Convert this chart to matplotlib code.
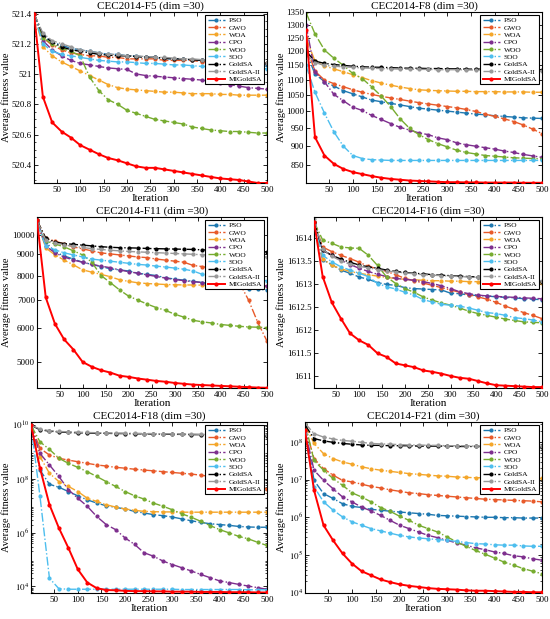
import numpy as np
import matplotlib
matplotlib.use("Agg")
import matplotlib.pyplot as plt
from matplotlib.ticker import FixedLocator, NullLocator, NullFormatter, LogLocator

plt.rcParams['font.family'] = ['Liberation Serif', 'DejaVu Serif']
plt.rcParams['mathtext.fontset'] = 'stix'

# ---------------- data ----------------
iterations = [1, 20, 40, 60, 80, 100, 120, 140, 160, 180, 200, 220, 240,
              260, 280, 300, 320, 340, 360, 380, 400, 420, 440, 460, 480, 500]

algorithms = ["PSO", "GWO", "WOA", "CPO", "WOO", "SOO", "GoldSA", "GoldSA-II", "MIGoldSA"]
colors = ["#1e78b0", "#e85a2a", "#f4a62a", "#7e2f8e", "#77ac30",
          "#4dbeee", "#000000", "#999999", "#ff0000"]

f5 = {
    "PSO": [521.4, 521.25, 521.21, 521.19, 521.17, 521.16, 521.15, 521.14, 521.13, 521.13, 521.12, 521.12, 521.11,
            521.11, 521.10, 521.10, 521.10, 521.09, 521.09, 521.09, 521.08, 521.08, 521.08, 521.07, 521.07, 521.06],
    "GWO": [521.4, 521.24, 521.19, 521.16, 521.14, 521.13, 521.12, 521.12, 521.11, 521.11, 521.10, 521.10, 521.10,
            521.10, 521.09, 521.09, 521.09, 521.09, 521.08, 521.08, 521.08, 521.08, 521.07, 521.07, 521.07, 521.07],
    "WOA": [521.4, 521.18, 521.12, 521.08, 521.05, 521.02, 520.99, 520.96, 520.93, 520.91, 520.90, 520.895, 520.89,
            520.885, 520.88, 520.88, 520.875, 520.87, 520.87, 520.87, 520.865, 520.865, 520.86, 520.86, 520.86, 520.86],
    "CPO": [521.4, 521.22, 521.16, 521.12, 521.09, 521.07, 521.06, 521.05, 521.04, 521.035, 521.03, 521.0, 520.99,
            520.985, 520.98, 520.975, 520.97, 520.965, 520.96, 520.95, 520.94, 520.93, 520.92, 520.91, 520.905, 520.90],
    "WOO": [521.4, 521.24, 521.2, 521.17, 521.15, 521.12, 520.98, 520.89, 520.83, 520.8, 520.76, 520.74, 520.72,
            520.7, 520.69, 520.68, 520.67, 520.65, 520.64, 520.63, 520.625, 520.62, 520.62, 520.615, 520.61, 520.61],
    "SOO": [521.4, 521.2, 521.15, 521.13, 521.12, 521.11, 521.10, 521.09, 521.085, 521.08, 521.08, 521.075, 521.07,
            521.07, 521.065, 521.06, 521.06, 521.055, 521.05, 521.05, 521.045, 521.04, 521.04, 521.04, 521.035, 521.035],
    "GoldSA": [521.4, 521.26, 521.21, 521.18, 521.16, 521.15, 521.14, 521.13, 521.125, 521.12, 521.12, 521.115, 521.11,
               521.11, 521.105, 521.10, 521.10, 521.095, 521.09, 521.09, 521.085, 521.08, 521.08, 521.075, 521.07, 521.07],
    "GoldSA-II": [521.4, 521.27, 521.22, 521.2, 521.18, 521.16, 521.15, 521.14, 521.13, 521.13, 521.12, 521.12, 521.115,
                  521.11, 521.11, 521.105, 521.10, 521.10, 521.095, 521.09, 521.09, 521.085, 521.08, 521.08, 521.075, 521.075],
    "MIGoldSA": [521.4, 520.85, 520.68, 520.62, 520.58, 520.53, 520.5, 520.47, 520.445, 520.43, 520.41, 520.39, 520.38,
                 520.38, 520.37, 520.36, 520.35, 520.34, 520.33, 520.32, 520.31, 520.305, 520.3, 520.29, 520.28, 520.28],
}

f8 = {
    "PSO": [1200, 1120, 1095, 1080, 1065, 1055, 1045, 1035, 1030, 1025, 1020, 1015, 1010,
            1007, 1004, 1001, 998, 995, 992, 990, 987, 985, 983, 981, 980, 979],
    "GWO": [1220, 1130, 1100, 1088, 1078, 1068, 1060, 1053, 1047, 1042, 1037, 1032, 1027,
            1023, 1019, 1015, 1011, 1006, 1000, 992, 985, 978, 970, 960, 948, 935],
    "WOA": [1250, 1165, 1148, 1138, 1128, 1118, 1108, 1098, 1090, 1083, 1077, 1072, 1068,
            1066, 1065, 1064, 1063, 1063, 1062, 1062, 1062, 1061, 1061, 1061, 1060, 1060],
    "CPO": [1300, 1127, 1094, 1053, 1033, 1013, 1003, 988, 976, 964, 953, 945, 937,
            932, 923, 918, 909, 904, 900, 896, 892, 887, 883, 878, 874, 870],
    "WOO": [1350, 1265, 1205, 1175, 1150, 1122, 1105, 1077, 1048, 1015, 978, 950, 932,
            918, 907, 898, 889, 883, 879, 875, 873, 871, 869, 868, 867, 866],
    "SOO": [1150, 1060, 995, 940, 900, 875, 867, 864, 863, 862, 862, 862, 862,
            862, 862, 862, 862, 862, 862, 862, 862, 862, 862, 862, 862, 862],
    "GoldSA": [1200, 1165, 1157, 1153, 1150, 1147, 1145, 1144, 1143, 1142, 1141, 1140, 1140,
               1139, 1139, 1138, 1138, 1137, 1137, 1137, 1136, 1136, 1136, 1135, 1135, 1135],
    "GoldSA-II": [1190, 1160, 1150, 1147, 1145, 1143, 1141, 1140, 1139, 1138, 1137, 1137, 1136,
                  1136, 1135, 1135, 1135, 1134, 1134, 1134, 1133, 1133, 1133, 1133, 1132, 1132],
    "MIGoldSA": [1280, 925, 875, 853, 840, 832, 827, 822, 818, 815, 813, 811, 810,
                 809, 808, 807, 807, 806.5, 806.5, 806, 806, 806, 806, 805.5, 805.5, 805.5],
}

f11 = {
    "PSO": [10700, 9600, 9100, 8900, 8750, 8600, 8500, 8400, 8300, 8250, 8200, 8100, 8050,
            8000, 7900, 7850, 7800, 7750, 7700, 7650, 7600, 7550, 7500, 7450, 7420, 7400],
    "GWO": [10800, 9800, 9650, 9500, 9350, 9250, 9150, 9050, 9000, 8950, 8900, 8850, 8820,
            8750, 8700, 8650, 8600, 8450, 8400, 8300, 8250, 8000, 7700, 7000, 6200, 5600],
    "WOA": [10700, 9300, 8950, 8700, 8480, 8250, 8150, 8050, 7950, 7820, 7750, 7690, 7660,
            7640, 7620, 7610, 7600, 7600, 7590, 7580, 7580, 7570, 7570, 7560, 7560, 7550],
    "CPO": [10700, 9400, 9050, 8850, 8700, 8600, 8500, 8420, 8350, 8250, 8170, 8100, 8030,
            7960, 7890, 7830, 7780, 7740, 7700, 7680, 7660, 7640, 7620, 7600, 7580, 7560],
    "WOO": [10800, 9650, 9500, 9350, 9150, 8950, 8600, 8000, 7700, 7400, 7150, 7000, 6850,
            6720, 6620, 6480, 6380, 6270, 6220, 6180, 6130, 6100, 6070, 6050, 6040, 6030],
    "SOO": [10600, 9400, 9200, 9050, 8950, 8850, 8750, 8700, 8650, 8600, 8550, 8500, 8470,
            8420, 8380, 8330, 8280, 8200, 8050, 8000, 7980, 7950, 7900, 7850, 7810, 7780],
    "GoldSA": [10800, 9800, 9600, 9520, 9480, 9440, 9400, 9360, 9330, 9310, 9300, 9290, 9270,
               9260, 9250, 9240, 9230, 9220, 9200, 9190, 9180, 9160, 9150, 9140, 9120, 9100],
    "GoldSA-II": [10800, 9700, 9550, 9450, 9380, 9320, 9260, 9220, 9180, 9150, 9120, 9100, 9080,
                  9060, 9040, 9020, 9000, 8980, 8960, 8940, 8920, 8900, 8880, 8870, 8860, 8850],
    "MIGoldSA": [10800, 7100, 6150, 5650, 5350, 5000, 4870, 4780, 4720, 4640, 4610, 4570, 4540,
                 4510, 4490, 4460, 4440, 4420, 4410, 4400, 4390, 4380, 4370, 4360, 4350, 4345],
}

f16 = {
    "PSO": [1614.3, 1613.52, 1613.42, 1613.3, 1613.23, 1613.15, 1613.1, 1613.03, 1612.99, 1612.97, 1612.92, 1612.9, 1612.89,
            1612.88, 1612.87, 1612.8, 1612.79, 1612.76, 1612.75, 1612.74, 1612.72, 1612.71, 1612.7, 1612.68, 1612.67, 1612.66],
    "GWO": [1614.35, 1613.8, 1613.7, 1613.62, 1613.55, 1613.47, 1613.38, 1613.33, 1613.27, 1613.2, 1613.12, 1613.07, 1613.02,
            1612.97, 1612.92, 1612.87, 1612.82, 1612.77, 1612.72, 1612.67, 1612.6, 1612.52, 1612.45, 1612.38, 1612.32, 1612.25],
    "WOA": [1614.3, 1613.55, 1613.4, 1613.33, 1613.27, 1613.23, 1613.2, 1613.17, 1613.14, 1613.12, 1613.1, 1613.09, 1613.08,
            1613.07, 1613.07, 1613.06, 1613.06, 1613.05, 1613.05, 1613.05, 1613.04, 1613.04, 1613.04, 1613.03, 1613.03, 1613.03],
    "CPO": [1614.3, 1613.73, 1613.62, 1613.52, 1613.42, 1613.34, 1613.27, 1613.21, 1613.16, 1613.12, 1613.1, 1613.08, 1613.05,
            1613.01, 1612.96, 1612.9, 1612.83, 1612.79, 1612.76, 1612.74, 1612.73, 1612.72, 1612.71, 1612.7, 1612.69, 1612.68],
    "WOO": [1614.35, 1613.95, 1613.88, 1613.8, 1613.78, 1613.77, 1613.62, 1613.4, 1613.15, 1613.01, 1612.9, 1612.82, 1612.72,
            1612.65, 1612.59, 1612.54, 1612.48, 1612.41, 1612.36, 1612.32, 1612.28, 1612.24, 1612.21, 1612.18, 1612.17, 1612.16],
    "SOO": [1614.3, 1613.62, 1613.48, 1613.37, 1613.3, 1613.23, 1613.16, 1613.01, 1612.94, 1612.89, 1612.82, 1612.76, 1612.66,
            1612.61, 1612.56, 1612.54, 1612.52, 1612.48, 1612.43, 1612.38, 1612.36, 1612.32, 1612.27, 1612.25, 1612.22, 1612.18],
    "GoldSA": [1614.35, 1613.73, 1613.62, 1613.54, 1613.47, 1613.41, 1613.37, 1613.34, 1613.3, 1613.27, 1613.25, 1613.23, 1613.22,
               1613.2, 1613.19, 1613.18, 1613.17, 1613.16, 1613.15, 1613.14, 1613.13, 1613.12, 1613.1, 1613.08, 1613.07, 1613.05],
    "GoldSA-II": [1614.4, 1613.75, 1613.6, 1613.5, 1613.43, 1613.38, 1613.35, 1613.31, 1613.28, 1613.26, 1613.24, 1613.22, 1613.2,
                  1613.19, 1613.18, 1613.17, 1613.16, 1613.15, 1613.14, 1613.13, 1613.12, 1613.11, 1613.1, 1613.09, 1613.08, 1613.07],
    "MIGoldSA": [1614.35, 1613.16, 1612.6, 1612.25, 1611.93, 1611.78, 1611.68, 1611.5, 1611.42, 1611.28, 1611.24, 1611.2, 1611.13,
                 1611.1, 1611.06, 1611.01, 1610.97, 1610.95, 1610.9, 1610.85, 1610.81, 1610.8, 1610.79, 1610.78, 1610.77, 1610.77],
}

# F18 and F21 read as exponents (log10 of the fitness value)
f18_log10 = {
    "PSO": [10, 8.33, 7.8, 7.69, 7.53, 7.37, 7.22, 7.1, 7.0, 6.94, 6.88, 6.79, 6.73,
            6.67, 6.63, 6.58, 6.51, 6.44, 6.38, 6.33, 6.3, 6.27, 6.23, 6.21, 6.2, 6.2],
    "GWO": [10, 9.14, 8.89, 8.77, 8.7, 8.64, 8.58, 8.52, 8.48, 8.43, 8.4, 8.36, 8.33,
            8.3, 8.27, 8.24, 8.21, 8.18, 8.14, 8.09, 8.02, 7.96, 7.9, 7.81, 7.72, 7.62],
    "WOA": [10, 8.83, 8.21, 7.9, 7.72, 7.53, 7.28, 7.16, 7.04, 6.95, 6.88, 6.83, 6.79,
            6.78, 6.77, 6.77, 6.76, 6.76, 6.76, 6.76, 6.76, 6.76, 6.76, 6.76, 6.76, 6.76],
    "CPO": [10, 8.95, 8.52, 8.09, 7.6, 7.28, 6.98, 6.6, 6.3, 6.11, 5.8, 5.56, 5.25,
            5.12, 4.94, 4.81, 4.69, 4.57, 4.44, 4.32, 4.2, 4.14, 4.07, 4.01, 3.95, 3.89],
    "WOO": [10, 9.38, 9.1, 8.77, 8.58, 8.43, 8.27, 8.09, 7.9, 7.72, 7.53, 7.37, 7.25,
            7.1, 6.98, 6.85, 6.7, 6.57, 6.42, 6.26, 6.11, 5.99, 5.86, 5.77, 5.64, 5.52],
    "SOO": [10, 7.35, 4.3, 3.91, 3.89, 3.89, 3.89, 3.89, 3.89, 3.89, 3.89, 3.89, 3.89,
            3.89, 3.89, 3.89, 3.88, 3.88, 3.88, 3.88, 3.88, 3.88, 3.88, 3.87, 3.87, 3.87],
    "GoldSA": [10, 9.83, 9.78, 9.75, 9.73, 9.72, 9.71, 9.70, 9.70, 9.69, 9.69, 9.68, 9.68,
               9.67, 9.67, 9.66, 9.66, 9.65, 9.65, 9.64, 9.64, 9.63, 9.63, 9.62, 9.62, 9.61],
    "GoldSA-II": [10, 9.86, 9.8, 9.77, 9.75, 9.74, 9.73, 9.72, 9.71, 9.71, 9.70, 9.70, 9.69,
                  9.69, 9.68, 9.68, 9.67, 9.67, 9.66, 9.66, 9.65, 9.65, 9.64, 9.64, 9.63, 9.62],
    "MIGoldSA": [10, 8.4, 7.04, 6.17, 5.43, 4.63, 4.14, 3.93, 3.86, 3.85, 3.83, 3.82, 3.82,
                 3.81, 3.81, 3.8, 3.8, 3.8, 3.79, 3.79, 3.79, 3.78, 3.78, 3.78, 3.77, 3.77],
}

f21_log10 = {
    "PSO": [8.4, 6.98, 6.63, 6.5, 6.36, 6.29, 6.26, 6.21, 6.19, 6.16, 6.14, 6.12, 6.1,
            6.08, 6.05, 6.04, 6.03, 6.02, 6.01, 6.0, 6.0, 5.99, 5.99, 5.98, 5.98, 5.98],
    "GWO": [8.4, 7.56, 7.29, 7.12, 6.98, 6.94, 6.88, 6.82, 6.78, 6.73, 6.69, 6.65, 6.63,
            6.6, 6.58, 6.56, 6.54, 6.52, 6.5, 6.48, 6.47, 6.46, 6.45, 6.44, 6.43, 6.41],
    "WOA": [8.45, 7.96, 7.69, 7.56, 7.47, 7.41, 7.34, 7.29, 7.25, 7.22, 7.19, 7.16, 7.14,
            7.12, 7.1, 7.09, 7.07, 7.06, 7.05, 7.05, 7.04, 7.04, 7.04, 7.03, 7.03, 7.03],
    "CPO": [8.3, 7.25, 6.98, 6.76, 6.54, 6.41, 6.27, 6.17, 6.05, 5.92, 5.79, 5.7, 5.61,
            5.52, 5.46, 5.39, 5.32, 5.26, 5.19, 5.14, 5.08, 5.04, 4.98, 4.95, 4.9, 4.86],
    "WOO": [8.5, 7.51, 7.25, 7.03, 6.85, 6.65, 6.54, 6.41, 6.26, 6.16, 6.03, 5.92, 5.79,
            5.7, 5.61, 5.48, 5.35, 5.23, 5.12, 5.02, 4.92, 4.81, 4.73, 4.64, 4.57, 4.5],
    "SOO": [8.2, 6.81, 6.41, 6.19, 6.01, 5.88, 5.79, 5.7, 5.64, 5.58, 5.52, 5.48, 5.45,
            5.43, 5.41, 5.39, 5.36, 5.33, 5.3, 5.29, 5.27, 5.26, 5.26, 5.24, 5.23, 5.23],
    "GoldSA": [8.45, 8.09, 8.03, 7.99, 7.96, 7.94, 7.92, 7.91, 7.91, 7.9, 7.9, 7.9, 7.89,
               7.89, 7.89, 7.89, 7.88, 7.88, 7.88, 7.88, 7.88, 7.87, 7.87, 7.87, 7.87, 7.87],
    "GoldSA-II": [8.5, 8.22, 8.13, 8.08, 8.04, 8.02, 7.99, 7.96, 7.95, 7.94, 7.93, 7.92, 7.92,
                  7.91, 7.91, 7.9, 7.9, 7.9, 7.89, 7.89, 7.89, 7.89, 7.88, 7.88, 7.88, 7.88],
    "MIGoldSA": [8.31, 6.72, 5.79, 5.39, 5.04, 4.77, 4.57, 4.46, 4.35, 4.28, 4.22, 4.18, 4.15,
                 4.12, 4.1, 4.09, 4.08, 4.06, 4.05, 4.05, 4.04, 4.03, 4.02, 4.02, 4.01, 4.01],
}

xticks = [50, 100, 150, 200, 250, 300, 350, 400, 450, 500]
f5_minor = [520.3, 520.35, 520.45, 520.5, 520.55, 520.65, 520.7, 520.75, 520.85, 520.9,
            520.95, 521.05, 521.1, 521.15, 521.25, 521.3, 521.35]

W, H = 550.0, 619.0

# =====================================================
# DRAW ONE PANEL
# =====================================================

def draw_panel(ax, box, data, title, ylim, yticks, ylabels, ylabel_px,
               log10=False, minor=None):
    for name, col in zip(algorithms, colors):
        y = np.array(data[name], dtype=float)
        if log10:
            y = 10.0 ** y
        if name == "MIGoldSA":
            ax.plot(iterations, y, '-', color=col, lw=1.4, marker='o', ms=2.0,
                    label=name, zorder=5)
        else:
            ax.plot(iterations, y, '-.', color=col, lw=1.0, marker='o', ms=2.0,
                    label=name)
    ax.set_yscale('log')
    ax.set_xlim(1, 500)
    ax.set_ylim(*ylim)
    ax.yaxis.set_major_locator(FixedLocator(yticks))
    if minor == "log":
        ax.yaxis.set_minor_locator(LogLocator(base=10, subs=np.arange(2, 10), numticks=20))
    elif minor is not None:
        ax.yaxis.set_minor_locator(FixedLocator(minor))
    else:
        ax.yaxis.set_minor_locator(NullLocator())
    ax.yaxis.set_minor_formatter(NullFormatter())
    ax.set_yticklabels(ylabels)
    ax.set_xticks(xticks)
    ax.tick_params(direction='in', top=True, right=True, labelsize=6.5,
                   length=3, width=0.6)
    ax.tick_params(axis='y', pad=1.5)
    ax.tick_params(axis='x', pad=2)
    ax.tick_params(which='minor', direction='in', left=True, right=True,
                   length=1.5, width=0.5)
    for s in ax.spines.values():
        s.set_linewidth(0.8)
    ax.set_title(title, fontsize=8, pad=2)
    ax.set_xlabel("Iteration", fontsize=8, labelpad=0)
    ax.set_ylabel("Average fitness value", fontsize=7.5)
    left, right = box[0], box[1]
    ax.yaxis.set_label_coords((ylabel_px - left) / (right - left), 0.5)
    leg = ax.legend(loc='upper right', fontsize=5.4, fancybox=False,
                    edgecolor='black', framealpha=1, borderaxespad=0.35,
                    handlelength=2.3, labelspacing=0.15, borderpad=0.3,
                    handletextpad=0.5)
    leg.get_frame().set_linewidth(0.8)


def rect(box):
    left, right, top, bottom = box
    return [left / W, 1 - bottom / H, (right - left) / W, (bottom - top) / H]


fig = plt.figure(figsize=(5.5, 6.19), dpi=100)

boxes = [(34, 267, 12, 183), (306, 542, 12, 183),
         (37, 267, 217, 388), (314, 542, 217, 388),
         (31, 267, 422, 593), (305, 542, 422, 593)]
axes = [fig.add_axes(rect(b)) for b in boxes]

draw_panel(axes[0], boxes[0], f5, "CEC2014-F5 (dim =30)", (520.28, 521.41),
           [520.4, 520.6, 520.8, 521.0, 521.2, 521.4],
           ["520.4", "520.6", "520.8", "521", "521.2", "521.4"], 11.5, minor=f5_minor)
draw_panel(axes[1], boxes[1], f8, "CEC2014-F8 (dim =30)", (805, 1352),
           [850, 900, 950, 1000, 1050, 1100, 1150, 1200, 1250, 1300, 1350],
           ["850", "900", "950", "1000", "1050", "1100", "1150", "1200", "1250", "1300", "1350"], 286.5)
draw_panel(axes[2], boxes[2], f11, "CEC2014-F11 (dim =30)", (4340, 11000),
           [5000, 6000, 7000, 8000, 9000, 10000],
           ["5000", "6000", "7000", "8000", "9000", "10000"], 11.5)
draw_panel(axes[3], boxes[3], f16, "CEC2014-F16 (dim =30)", (1610.75, 1614.45),
           [1611, 1611.5, 1612, 1612.5, 1613, 1613.5, 1614],
           ["1611", "1611.5", "1612", "1612.5", "1613", "1613.5", "1614"], 286)
draw_panel(axes[4], boxes[4], f18_log10, "CEC2014-F18 (dim =30)", (10 ** 3.75, 10 ** 10.12),
           [1e4, 1e6, 1e8, 1e10],
           [r"$10^{4}$", r"$10^{6}$", r"$10^{8}$", r"$10^{10}$"], 11.5, log10=True, minor="log")
draw_panel(axes[5], boxes[5], f21_log10, "CEC2014-F21 (dim =30)", (10 ** 3.99, 10 ** 8.53),
           [1e4, 1e5, 1e6, 1e7, 1e8],
           [r"$10^{4}$", r"$10^{5}$", r"$10^{6}$", r"$10^{7}$", r"$10^{8}$"], 286.5, log10=True, minor="log")

fig.savefig("out.png", dpi=100)
